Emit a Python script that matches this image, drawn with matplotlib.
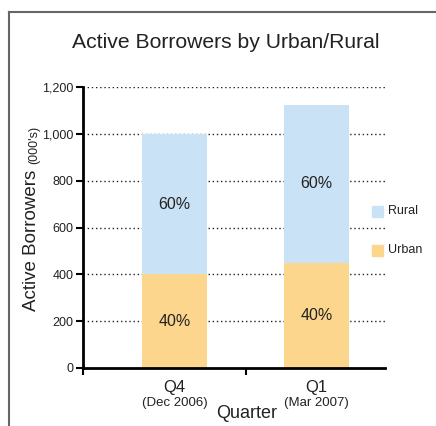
import matplotlib
matplotlib.use("Agg")
import matplotlib.pyplot as plt
from matplotlib.lines import Line2D
from matplotlib.patches import Rectangle

plt.rcParams['font.family'] = ['Liberation Sans', 'DejaVu Sans']

# Data (thousands of active borrowers)
quarters = ["Q4", "Q1"]
periods = ["(Dec 2006)", "(Mar 2007)"]
urban = [400, 450]
total = [1000, 1125]
rural = [t - u for t, u in zip(total, urban)]
series_names = ["Rural", "Urban"]
yticks = [0, 200, 400, 600, 800, 1000, 1200]

c_rural = "#C9E2F5"
c_urban = "#FDD68E"
text_c = "#222222"

W, H = 436, 426
fig = plt.figure(figsize=(W / 100, H / 100), dpi=100)

def fx(px):
    return px / W

def fy(py):
    return 1 - py / H

# panel frame (top and left edges)
fig.add_artist(Line2D([fx(9), fx(436)], [fy(11.5), fy(11.5)], color="#666666", lw=1.5))
fig.add_artist(Line2D([fx(9), fx(9)], [fy(11.5), fy(426)], color="#666666", lw=1.5))

ax_l, ax_r, ax_t, ax_b = 83, 385, 87, 368
ax = fig.add_axes([fx(ax_l), fy(ax_b), fx(ax_r - ax_l), (ax_b - ax_t) / H])

x = [0, 1]
width = 0.46
xl, xr = -0.644, 1.48
ax.set_xlim(xl, xr)
ax.set_ylim(0, 1200)

ax.bar(x, urban, width=width, color=c_urban, zorder=2)
ax.bar(x, rural, width=width, bottom=urban, color=c_rural, zorder=2)

for xi, u, r, t in zip(x, urban, rural, total):
    ax.text(xi, u / 2, f"{round(100 * u / t)}%", ha="center", va="center",
            fontsize=11.5, color=text_c, zorder=3)
    ax.text(xi, u + r / 2, f"{round(100 * r / t)}%", ha="center", va="center",
            fontsize=11.5, color=text_c, zorder=3)

for v in yticks[1:]:
    ax.axhline(v, color="#222222", lw=1.0, ls=(0, (1, 2)), zorder=1)

ax.set_yticks(yticks)
ax.set_yticklabels([f"{v:,}" for v in yticks], fontsize=9, color=text_c)
ax.set_xticks([xl, 0.5])
ax.set_xticklabels(["", ""])
ax.tick_params(axis="both", direction="out", length=5, width=1.5, color="black")
ax.tick_params(axis="y", pad=2)

for s in ["top", "right"]:
    ax.spines[s].set_visible(False)
for s in ["left", "bottom"]:
    ax.spines[s].set_linewidth(2)
    ax.spines[s].set_color("black")

# category labels
for xi, q, p in zip(x, quarters, periods):
    ax.annotate(q, xy=(xi, 0), xycoords="data", xytext=(0, -14), textcoords="offset points",
                ha="center", va="center", fontsize=12, color=text_c, annotation_clip=False)
    ax.annotate(p, xy=(xi, 0), xycoords="data", xytext=(0, -25.5), textcoords="offset points",
                ha="center", va="center", fontsize=9.5, color=text_c, annotation_clip=False)

fig.text(fx(247), fy(414), "Quarter", ha="center", va="center", fontsize=13, color=text_c)

# y-axis title
fig.text(fx(32), fy(311), "Active Borrowers", rotation=90, ha="center", va="bottom",
         fontsize=13.5, color=text_c)
fig.text(fx(34.5), fy(164), "(000's)", rotation=90, ha="center", va="bottom",
         fontsize=9, color=text_c)

# title
fig.text(fx(226), fy(42), "Active Borrowers by Urban/Rural", ha="center", va="center",
         fontsize=15.2, color=text_c)

# legend
for name, col, yc in zip(series_names, [c_rural, c_urban], [211.5, 250]):
    fig.add_artist(Rectangle((fx(372), fy(yc + 5.5)), fx(11), 11 / H, color=col,
                             transform=fig.transFigure))
    fig.text(fx(388), fy(yc), name, ha="left", va="center", fontsize=9, color=text_c)

fig.savefig("out.png", dpi=100)
